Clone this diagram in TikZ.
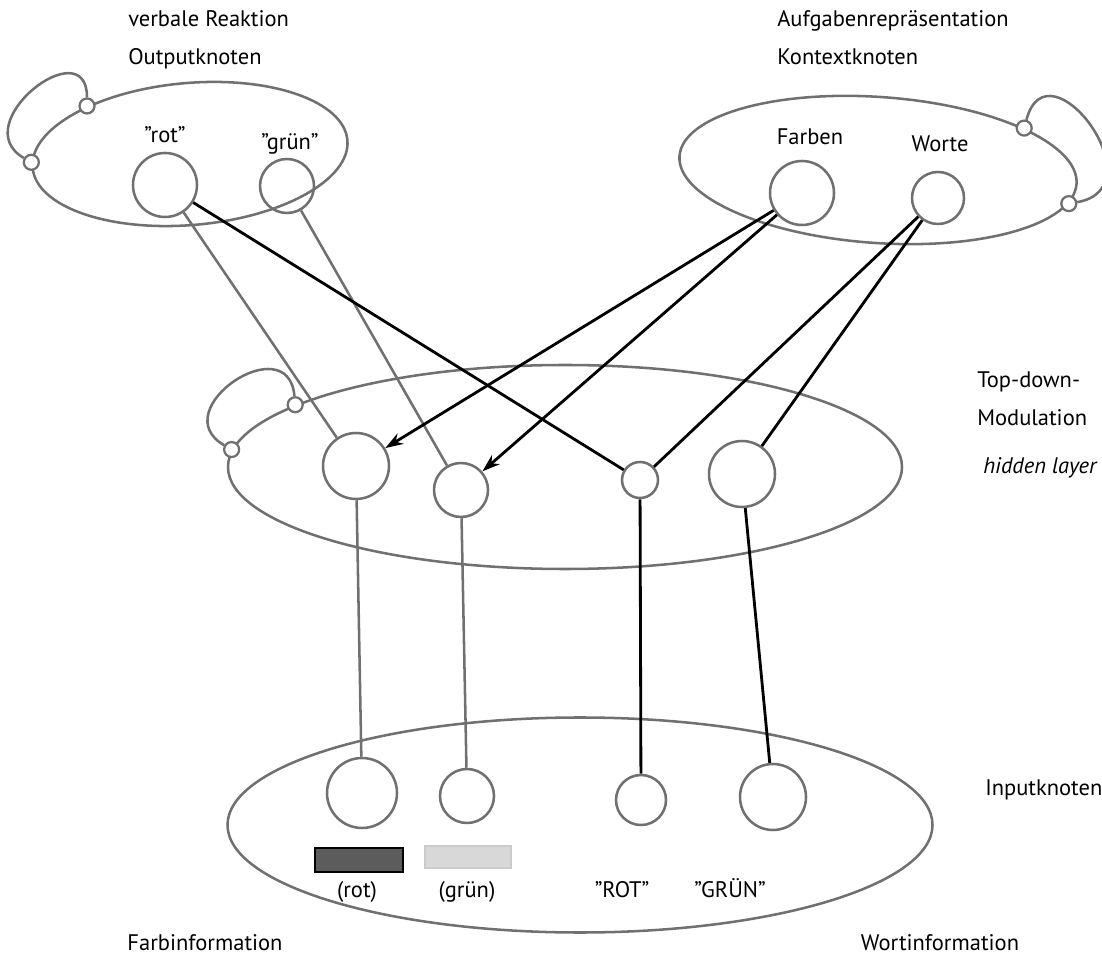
\documentclass[tikz,border=0pt]{standalone}
\usepackage{fontspec}
\setmainfont{PT Sans}
\usetikzlibrary{shapes.geometric, arrows.meta}
\definecolor{linegray}{RGB}{112,112,112}
\definecolor{darkfill}{RGB}{92,92,92}
\definecolor{lightfill}{RGB}{216,216,216}
\newcommand{\px}{0.025cm}
\tikzset{
  layer/.style={ellipse, draw=linegray, line width=1.8pt, inner sep=0pt},
  unit/.style={circle, draw=linegray, line width=1.8pt, minimum size=#1*2*\px, inner sep=0pt},
  knob/.style={circle, draw=linegray, fill=white, line width=1.6pt, minimum size=15*\px, inner sep=0pt},
  graylink/.style={linegray, line width=1.8pt},
  blacklink/.style={black, line width=2pt},
  arrowlink/.style={black, line width=2pt, -{Stealth[length=0.45cm, width=0.3cm]}},
  txt/.style={font=\fontsize{16}{19}\selectfont, inner sep=0pt},
}
\begin{document}
\begin{tikzpicture}[x=\px, y=\px]
        \useasboundingbox (0,0) rectangle (1102,960);

        % Layers
        \node[layer, minimum width=316*\px, minimum height=142*\px, rotate=5] (outL) at (190,806) {};
        \node[layer, minimum width=398*\px, minimum height=146*\px, rotate=-4] (ctxL) at (878,790) {};
        \node[layer, minimum width=674*\px, minimum height=204*\px] (hidL) at (565,493) {};
        \node[layer, minimum width=705*\px, minimum height=215*\px] (inL) at (580,135) {};

        % Output units
        \node[unit=32] (rotO) at (165,775) {};
        \node[unit=27] (gruenO) at (287,774) {};
        % Context units
        \node[unit=32] (farben) at (802,767) {};
        \node[unit=26] (worte) at (938,762) {};
        % Hidden units
        \node[unit=33] (h1) at (356,494) {};
        \node[unit=27] (h2) at (461,470) {};
        \node[unit=18] (h3) at (640,480) {};
        \node[unit=33] (h4) at (742,486) {};
        % Input units
        \node[unit=35] (i1) at (362,167) {};
        \node[unit=27] (i2) at (467,164) {};
        \node[unit=25] (i3) at (641,160) {};
        \node[unit=33] (i4) at (773,163) {};

        % Colour patches
        \node[draw=black, fill=darkfill, line width=1.2pt, minimum width=88*\px, minimum height=24*\px, inner sep=0pt] (patchR) at (359,100) {};
        \node[draw=lightfill!85!gray, fill=lightfill, line width=0.8pt, minimum width=86*\px, minimum height=22*\px, inner sep=0pt] (patchG) at (468,103) {};

        % Gray connections
        \draw[graylink] (rotO) -- (h1);
        \draw[graylink] (gruenO) -- (h2);
        \draw[graylink] (h1) -- (i1);
        \draw[graylink] (h2) -- (i2);

        % Black connections
        \draw[blacklink] (rotO) -- (h3);
        \draw[blacklink] (worte) -- (h3);
        \draw[blacklink] (worte) -- (h4);
        \draw[blacklink] (h3) -- (i3);
        \draw[blacklink] (h4) -- (i4);
        \draw[arrowlink] (farben) -- (h1);
        \draw[arrowlink] (farben) -- (h2);

        % Recurrent loops
        \node[knob] (oK1) at (outL.150) {};
        \node[knob] (oK2) at (outL.178) {};
        \node[knob] (cK1) at (ctxL.20) {};
        \node[knob] (cK2) at (ctxL.-6) {};
        \node[knob] (hK1) at (hidL.167) {};
        \node[knob] (hK2) at (hidL.177) {};
        \draw[graylink] (oK1) to[out=90, in=150, looseness=2] (oK2);
        \draw[graylink] (cK1) to[out=75, in=10, looseness=2.2] (cK2);
        \draw[graylink] (hK1) to[out=95, in=150, looseness=2.1] (hK2);

        % Labels
        \node[txt, anchor=base west] (tOut1) at (128,933) {verbale Reaktion};
        \node[txt, anchor=base west] (tOut2) at (128,895) {Outputknoten};
        \node[txt, anchor=base west] (tCtx1) at (777,933) {Aufgabenrepräsentation};
        \node[txt, anchor=base west] (tCtx2) at (777,895) {Kontextknoten};
        \node[txt, anchor=base] (tRot) at (165,817) {”rot”};
        \node[txt, anchor=base] (tGruen) at (290,810) {”grün”};
        \node[txt, anchor=base] (tFarben) at (810,815) {Farben};
        \node[txt, anchor=base] (tWorte) at (940,808) {Worte};
        \node[txt, anchor=base west] (tTop1) at (977,572) {Top-down-};
        \node[txt, anchor=base west] (tTop2) at (977,534) {Modulation};
        \node[txt, anchor=base west] (tHid) at (983,486) {\itshape hidden layer};
        \node[txt, anchor=base west] (tIn) at (985,165) {Inputknoten};
        \node[txt, anchor=base] (tRotP) at (357,63) {(rot)};
        \node[txt, anchor=base] (tGruenP) at (467,63) {(grün)};
        \node[txt, anchor=base] (tROT) at (622,63) {”ROT”};
        \node[txt, anchor=base] (tGRUEN) at (730,63) {”GRÜN”};
        \node[txt, anchor=base] (tFarbInfo) at (205,10) {Farbinformation};
        \node[txt, anchor=base] (tWortInfo) at (940,10) {Wortinformation};
\end{tikzpicture}
\end{document}
